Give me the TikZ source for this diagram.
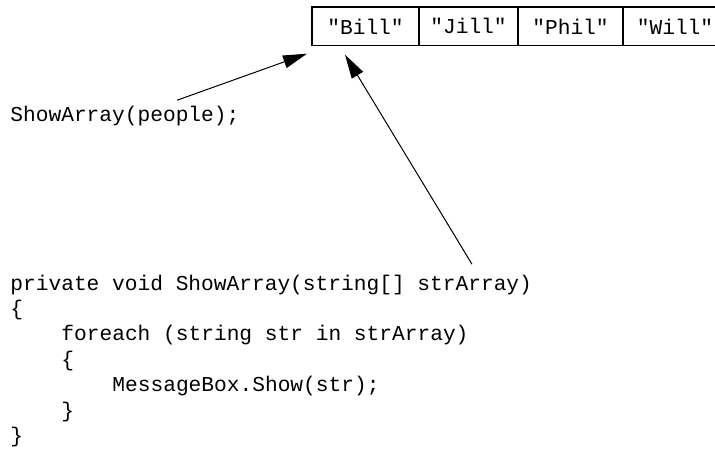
\documentclass[tikz,border=0pt]{standalone}
\usepackage{fontspec}
\setmonofont{Liberation Mono}
\usetikzlibrary{positioning,arrows.meta}
\tikzset{
  cell/.style={draw, line width=0.6pt, minimum height=19.35pt, inner sep=0pt, outer sep=0pt,
    font=\fontsize{10.6}{12}\selectfont\ttfamily},
  code/.style={anchor=base west, inner sep=0pt, font=\fontsize{10.6}{12}\selectfont\ttfamily},
  ptr/.style={-{Triangle[length=12pt,width=6.5pt]}, line width=0.5pt}
}
\begin{document}
\begin{tikzpicture}[x=0.5pt,y=-0.5pt]
	\clip (0,0) rectangle (715,449);
	% the array
	\node[cell, anchor=north west, minimum width=53.5pt] (bill) at (312,7) {"Bill"};
	\node[cell, right=0pt of bill, minimum width=49.5pt] (jill) {"Jill"};
	\node[cell, right=0pt of jill, minimum width=52.5pt] (phil) {"Phil"};
	\node[cell, right=0pt of phil, minimum width=52pt] (will) {"Will"};
	% the call
	\node[code] (call) at (10,121) {ShowArray(people);};
	% the method
	\node[code] (def) at (10,290) {private void ShowArray(string[] strArray)};
	\node[code] (ob1) at (10,315.4) {\{};
	\node[code] (loop) at (61,340.8) {foreach (string str in strArray)};
	\node[code] (ob2) at (61,366.2) {\{};
	\node[code] (show) at (112,391.6) {MessageBox.Show(str);};
	\node[code] (cb2) at (61,417) {\}};
	\node[code] (cb1) at (10,442.4) {\}};
	% pointers
	\draw[ptr] ([shift={(167,-5)}]call.north west) -- ([shift={(-5,8)}]bill.south west);
	\draw[ptr] ([shift={(462,-10)}]def.north west) -- ([shift={(33,9)}]bill.south west);
\end{tikzpicture}
\end{document}
